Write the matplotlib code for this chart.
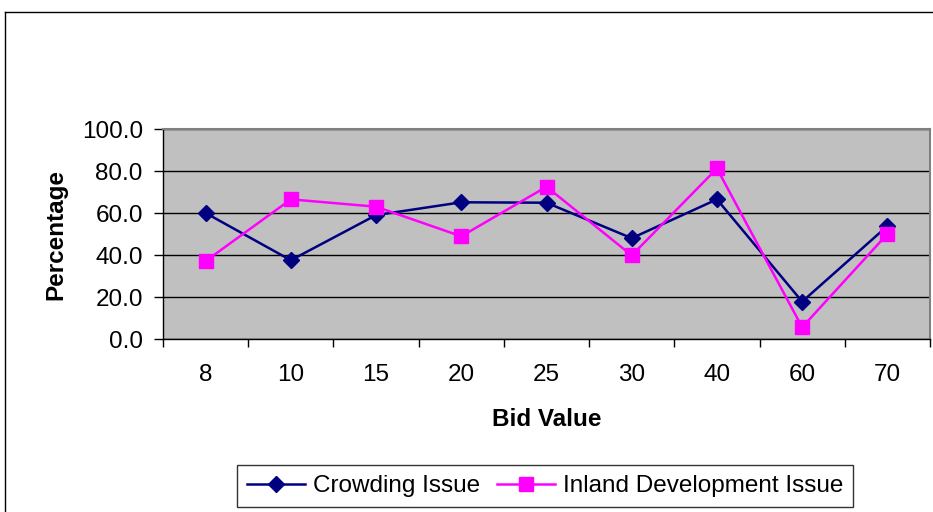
import matplotlib
matplotlib.use("Agg")
import matplotlib.pyplot as plt
from matplotlib.lines import Line2D
import numpy as np

plt.rcParams["font.family"] = ["Liberation Sans", "DejaVu Sans"]

bid_values = ["8", "10", "15", "20", "25", "30", "40", "60", "70"]
crowding = [60.0, 37.5, 59.0, 65.1, 64.9, 48.0, 66.5, 17.8, 53.8]
inland = [37.1, 66.5, 63.0, 48.9, 72.5, 39.8, 81.2, 5.6, 50.0]
y_ticks = [0, 20, 40, 60, 80, 100]

FS = 17.5

fig = plt.figure(figsize=(9.33, 5.12), dpi=100)
ax = fig.add_axes([163 / 933, 1 - 339 / 512, 767 / 933, 210 / 512])
ax.set_facecolor("#C0C0C0")

x = np.arange(len(bid_values))
ax.plot(x, crowding, color="#000080", lw=1.8, marker="D", ms=8,
        label="Crowding Issue", zorder=3)
ax.plot(x, inland, color="#FF00FF", lw=1.8, marker="s", ms=10,
        label="Inland Development Issue", zorder=4)

ax.set_xlim(-0.5, len(bid_values) - 0.5)
ax.set_ylim(0, 100)
ax.set_yticks(y_ticks)
ax.set_yticklabels([f"{v:.1f}" for v in y_ticks], fontsize=FS)
ax.yaxis.grid(True, color="black", lw=1)
ax.set_axisbelow(True)

# category labels centred, tick marks on the boundaries
ax.set_xticks(np.arange(-0.5, len(bid_values)), minor=False)
ax.set_xticklabels([])
ax.set_xticks(x, minor=True)
ax.set_xticklabels(bid_values, minor=True, fontsize=FS)
ax.tick_params(axis="x", which="major", direction="out", length=6, width=1)
ax.tick_params(axis="x", which="minor", length=0, pad=18)
ax.tick_params(axis="y", direction="out", length=6.5, width=1, pad=8)

for side in ("top", "right"):
    ax.spines[side].set_color("#808080")
    ax.spines[side].set_linewidth(1.5)
for side in ("left", "bottom"):
    ax.spines[side].set_color("black")
    ax.spines[side].set_linewidth(1)

ax.set_ylabel("Percentage", fontsize=FS, fontweight="bold", labelpad=10)
ax.set_xlabel("Bid Value", fontsize=FS, fontweight="bold", labelpad=16)

# chart area border
fig.add_artist(Line2D([5 / 933, 5 / 933], [0, 1 - 12 / 512],
                      transform=fig.transFigure, color="black", lw=1))
fig.add_artist(Line2D([5 / 933, 1], [1 - 12 / 512, 1 - 12 / 512],
                      transform=fig.transFigure, color="black", lw=1))

leg = fig.legend(loc="center", bbox_to_anchor=(545 / 933, 1 - 486 / 512),
                 ncol=2, fontsize=FS, frameon=True, fancybox=False,
                 edgecolor="black", handlelength=2.4, handletextpad=0.3,
                 columnspacing=0.7, borderpad=0.4, borderaxespad=0)
leg.get_frame().set_linewidth(1)

fig.savefig("out.png", dpi=100)
